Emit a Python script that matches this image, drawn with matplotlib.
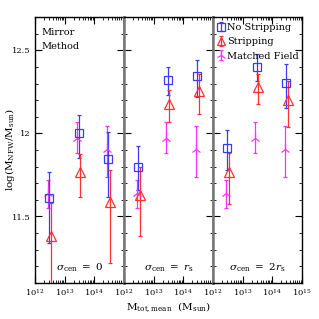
import matplotlib
matplotlib.use("Agg")
import matplotlib.pyplot as plt
import numpy as np

plt.rcParams['font.family'] = ['DejaVu Serif']
plt.rcParams['mathtext.fontset'] = 'dejavuserif'

# ---------------- data ----------------
mass_bins = [3e12, 3e13, 3e14]
panel_labels = [r'$\sigma_{\rm cen}\ =\ 0$', r'$\sigma_{\rm cen}\ =\ r_{\rm s}$', r'$\sigma_{\rm cen}\ =\ 2r_{\rm s}$']

nostrip_val = [[11.61, 12.00, 11.845], [11.80, 12.322, 12.346], [11.91, 12.40, 12.30]]
nostrip_hi  = [[11.77, 12.11, 12.01], [11.925, 12.397, 12.44], [12.02, 12.477, 12.417]]
nostrip_lo  = [[11.34, 11.85, 11.62], [11.66, 12.23, 12.217], [11.78, 12.317, 12.15]]

strip_val = [[11.38, 11.77, 11.59], [11.63, 12.176, 12.256], [11.77, 12.277, 12.20]]
strip_hi  = [[11.58, 11.875, 11.78], [11.80, 12.26, 12.357], [11.88, 12.357, 12.317]]
strip_lo  = [[11.00, 11.62, 11.22], [11.38, 12.066, 12.116], [11.575, 12.176, 12.036]]

field_val = [11.64, 11.975, 11.905]
field_hi  = [11.72, 12.07, 12.046]
field_lo  = [11.55, 11.88, 11.735]

ytick_vals = [11.5, 12.0, 12.5]
ytick_labels = ['11.5', '12', '12.5']
xtick_vals = [1e12, 1e13, 1e14, 1e15]
xtick_labels = [r'$10^{12}$', r'$10^{13}$', r'$10^{14}$', r'$10^{15}$']

legend_names = ['No Stripping', 'Stripping', 'Matched Field']

# ---------------- plot ----------------
blue = '#3a3aff'
red = '#ff3030'
mag = '#ff30ff'

fig = plt.figure(figsize=(3.19, 3.19), dpi=100)
L, R, B, T = 35/319, 302/319, 1-283/319, 1-17/319
w = (R-L)/3
axes = [fig.add_axes([L+i*w, B, w, T-B]) for i in range(3)]

def errs(val, lo, hi):
    v = np.array(val); return np.vstack([v-np.array(lo), np.array(hi)-v])

x = np.array(mass_bins)
for i, ax in enumerate(axes):
    ax.set_xscale('log')
    ax.set_xlim(1e12, 1e15)
    ax.set_ylim(11.1, 12.7)
    ax.errorbar(x*10**-0.05, field_val, yerr=errs(field_val, field_lo, field_hi),
                fmt='2', color=mag, ms=8, mew=0.9, elinewidth=0.9, capsize=1.5, capthick=0.9,
                label=legend_names[2])
    ax.errorbar(x, nostrip_val[i], yerr=errs(nostrip_val[i], nostrip_lo[i], nostrip_hi[i]),
                fmt='s', mfc='none', mec=blue, color=blue, ms=6, mew=0.9, elinewidth=0.9,
                capsize=1.5, capthick=0.9, label=legend_names[0])
    ax.errorbar(x*10**0.05, strip_val[i], yerr=errs(strip_val[i], strip_lo[i], strip_hi[i]),
                fmt='^', mfc='none', mec=red, color=red, ms=7, mew=0.9, elinewidth=0.9,
                capsize=1.5, capthick=0.9, label=legend_names[1])

    ax.set_xticks(xtick_vals)
    if i < 2:
        ax.set_xticklabels(xtick_labels[:3] + [''])
    else:
        ax.set_xticklabels(xtick_labels)
    ax.set_yticks(ytick_vals)
    ax.set_yticks(np.arange(11.1, 12.71, 0.1), minor=True)
    if i == 0:
        ax.set_yticklabels(ytick_labels)
    else:
        ax.set_yticklabels([])
    ax.tick_params(which='both', direction='in', top=True, right=True, labelsize=6, pad=3)
    ax.tick_params(which='major', length=5, width=0.8)
    ax.tick_params(which='minor', length=2.5, width=0.6)
    for s in ax.spines.values():
        s.set_linewidth(1.0)
    if i > 0:
        ax.spines['left'].set_color('#777777'); ax.spines['left'].set_linewidth(1.8)
    if i < 2:
        ax.spines['right'].set_color('#777777'); ax.spines['right'].set_linewidth(1.8)
    ax.text(0.5, 0.035, panel_labels[i], transform=ax.transAxes, ha='center', va='bottom', fontsize=7.5)

axes[0].text(0.07, 0.96, 'Mirror\nMethod', transform=axes[0].transAxes, ha='left', va='top',
             fontsize=7, linespacing=1.7)

h, l = axes[2].get_legend_handles_labels()
order = [1, 2, 0]
axes[2].legend([h[k] for k in order], [l[k] for k in order], loc='upper left',
               bbox_to_anchor=(0.03, 0.985), frameon=False,
               fontsize=7, handlelength=0.7, handletextpad=0.25, borderaxespad=0.0,
               labelspacing=0.55, borderpad=0.2, markerscale=0.9)

fig.text((L+R)/2, 1-307/319, r'$\mathrm{M_{tot,mean}}\ \ \mathrm{(M_{sun})}$', ha='center', va='center', fontsize=7.5)
fig.text(10/319, 1-150/319, r'$\mathrm{log(M_{NFW}/M_{sun})}$', ha='center', va='center',
         rotation=90, fontsize=7.5)

fig.savefig('out.png', dpi=100)
